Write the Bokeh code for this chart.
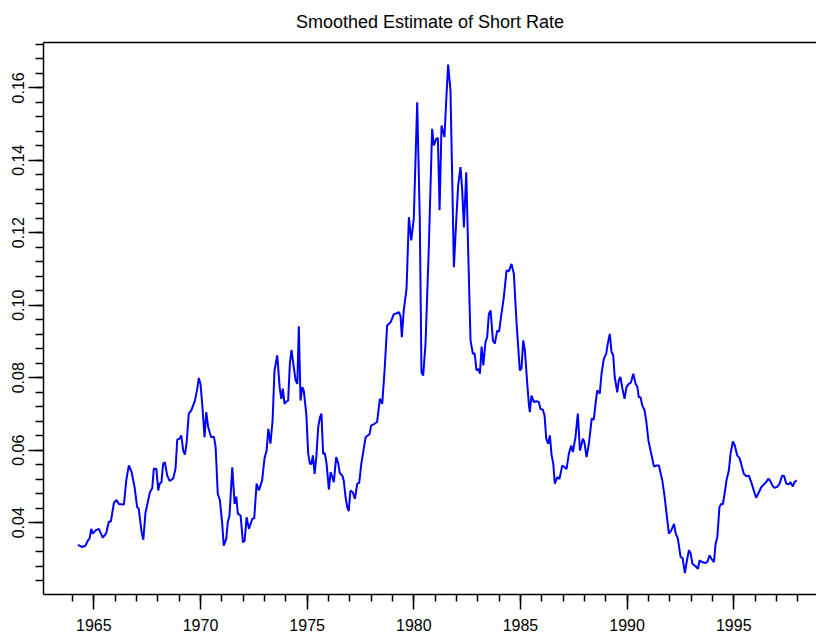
from bokeh.plotting import figure
from bokeh.models import FixedTicker, LinearAxis, PrintfTickFormatter, Range1d
from bokeh.embed import file_html
from bokeh.resources import INLINE

years = [
    1964.25, 1964.46, 1964.61, 1964.72, 1964.80, 1964.88, 1964.95, 1965.08, 1965.23, 1965.42,
    1965.58, 1965.70, 1965.80, 1965.94, 1966.06, 1966.17, 1966.41, 1966.52, 1966.64, 1966.77,
    1966.91, 1967.03, 1967.10, 1967.24, 1967.32, 1967.42, 1967.63, 1967.74, 1967.81, 1967.93,
    1968.02, 1968.09, 1968.17, 1968.25, 1968.33, 1968.44, 1968.56, 1968.72, 1968.83, 1968.91,
    1969.02, 1969.10, 1969.19, 1969.27, 1969.35, 1969.45, 1969.57, 1969.74, 1969.85, 1969.92,
    1970.00, 1970.08, 1970.19, 1970.27, 1970.36, 1970.50, 1970.63, 1970.71, 1970.81, 1970.91,
    1971.02, 1971.09, 1971.21, 1971.28, 1971.36, 1971.49, 1971.60, 1971.68, 1971.75, 1971.88,
    1971.99, 1972.07, 1972.16, 1972.27, 1972.43, 1972.52, 1972.63, 1972.74, 1972.89, 1973.00,
    1973.10, 1973.18, 1973.28, 1973.38, 1973.47, 1973.60, 1973.71, 1973.79, 1973.86, 1973.94,
    1974.03, 1974.11, 1974.19, 1974.27, 1974.35, 1974.46, 1974.54, 1974.61, 1974.69, 1974.77,
    1974.84, 1974.96, 1975.05, 1975.13, 1975.20, 1975.27, 1975.35, 1975.43, 1975.52, 1975.60,
    1975.67, 1975.75, 1975.83, 1975.91, 1976.02, 1976.10, 1976.18, 1976.25, 1976.36, 1976.46,
    1976.53, 1976.65, 1976.72, 1976.80, 1976.88, 1976.95, 1977.03, 1977.14, 1977.24, 1977.35,
    1977.44, 1977.54, 1977.63, 1977.74, 1977.85, 1977.93, 1978.00, 1978.16, 1978.28, 1978.41,
    1978.52, 1978.63, 1978.75, 1978.91, 1979.06, 1979.20, 1979.30, 1979.38, 1979.44, 1979.53,
    1979.66, 1979.77, 1979.88, 1980.00, 1980.16, 1980.28, 1980.36, 1980.44, 1980.55, 1980.70,
    1980.86, 1980.94, 1981.05, 1981.13, 1981.21, 1981.30, 1981.44, 1981.52, 1981.61, 1981.72,
    1981.80, 1981.88, 1981.99, 1982.08, 1982.19, 1982.27, 1982.35, 1982.46, 1982.55, 1982.66,
    1982.77, 1982.85, 1982.94, 1983.02, 1983.10, 1983.18, 1983.26, 1983.36, 1983.44, 1983.52,
    1983.60, 1983.71, 1983.80, 1983.91, 1984.00, 1984.11, 1984.22, 1984.35, 1984.46, 1984.58,
    1984.69, 1984.82, 1984.97, 1985.05, 1985.13, 1985.21, 1985.32, 1985.40, 1985.44, 1985.52,
    1985.63, 1985.75, 1985.86, 1985.94, 1986.05, 1986.13, 1986.21, 1986.30, 1986.38, 1986.46,
    1986.54, 1986.61, 1986.73, 1986.83, 1986.96, 1987.07, 1987.16, 1987.27, 1987.38, 1987.46,
    1987.58, 1987.69, 1987.79, 1987.93, 1988.00, 1988.10, 1988.21, 1988.34, 1988.44, 1988.52,
    1988.60, 1988.72, 1988.80, 1988.91, 1989.02, 1989.10, 1989.19, 1989.27, 1989.35, 1989.42,
    1989.54, 1989.61, 1989.69, 1989.78, 1989.88, 1989.97, 1990.08, 1990.18, 1990.29, 1990.40,
    1990.48, 1990.55, 1990.63, 1990.71, 1990.82, 1990.90, 1991.00, 1991.10, 1991.26, 1991.38,
    1991.49, 1991.65, 1991.76, 1991.85, 1991.96, 1992.07, 1992.20, 1992.28, 1992.38, 1992.51,
    1992.60, 1992.71, 1992.79, 1992.90, 1992.98, 1993.06, 1993.21, 1993.32, 1993.40, 1993.53,
    1993.68, 1993.76, 1993.87, 1993.96, 1994.07, 1994.15, 1994.23, 1994.33, 1994.41, 1994.49,
    1994.57, 1994.66, 1994.77, 1994.85, 1994.96, 1995.05, 1995.16, 1995.27, 1995.37, 1995.47,
    1995.60, 1995.71, 1995.82, 1995.94, 1996.05, 1996.18, 1996.29, 1996.41, 1996.52, 1996.62,
    1996.70, 1996.81, 1996.91, 1997.04, 1997.15, 1997.27, 1997.36, 1997.46, 1997.58, 1997.66,
    1997.77, 1997.85, 1997.95,
]

rates = [
    0.0339, 0.0333, 0.0337, 0.0351, 0.0356, 0.0383, 0.0370, 0.0379, 0.0383, 0.0359,
    0.0371, 0.0402, 0.0404, 0.0454, 0.0463, 0.0452, 0.0450, 0.0517, 0.0558, 0.0540,
    0.0498, 0.0443, 0.0440, 0.0374, 0.0353, 0.0427, 0.0484, 0.0496, 0.0549, 0.0549,
    0.0489, 0.0508, 0.0512, 0.0563, 0.0567, 0.0530, 0.0515, 0.0522, 0.0549, 0.0629,
    0.0632, 0.0641, 0.0599, 0.0588, 0.0620, 0.0701, 0.0710, 0.0737, 0.0770, 0.0799,
    0.0783, 0.0728, 0.0636, 0.0705, 0.0664, 0.0636, 0.0637, 0.0609, 0.0480, 0.0462,
    0.0397, 0.0337, 0.0356, 0.0402, 0.0420, 0.0553, 0.0452, 0.0472, 0.0425, 0.0420,
    0.0346, 0.0350, 0.0415, 0.0383, 0.0411, 0.0412, 0.0508, 0.0489, 0.0517, 0.0577,
    0.0599, 0.0659, 0.0618, 0.0682, 0.0820, 0.0862, 0.0774, 0.0742, 0.0770, 0.0728,
    0.0735, 0.0737, 0.0839, 0.0877, 0.0839, 0.0793, 0.0783, 0.0942, 0.0737, 0.0774,
    0.0765, 0.0701, 0.0590, 0.0563, 0.0562, 0.0586, 0.0535, 0.0581, 0.0664, 0.0691,
    0.0701, 0.0590, 0.0592, 0.0563, 0.0491, 0.0540, 0.0526, 0.0512, 0.0581, 0.0563,
    0.0537, 0.0530, 0.0515, 0.0471, 0.0443, 0.0432, 0.0489, 0.0484, 0.0466, 0.0508,
    0.0510, 0.0563, 0.0595, 0.0636, 0.0641, 0.0645, 0.0668, 0.0673, 0.0678, 0.0742,
    0.0728, 0.0820, 0.0944, 0.0953, 0.0975, 0.0978, 0.0981, 0.0970, 0.0912, 0.0986,
    0.1045, 0.1243, 0.1179, 0.1239, 0.1560, 0.1243, 0.0815, 0.0806, 0.0894, 0.1151,
    0.1487, 0.1441, 0.1459, 0.1462, 0.1262, 0.1496, 0.1464, 0.1565, 0.1664, 0.1593,
    0.1353, 0.1105, 0.1234, 0.1330, 0.1381, 0.1317, 0.1215, 0.1367, 0.1151, 0.0903,
    0.0866, 0.0868, 0.0820, 0.0825, 0.0811, 0.0886, 0.0834, 0.0898, 0.0912, 0.0976,
    0.0986, 0.0903, 0.0894, 0.0930, 0.0927, 0.0976, 0.1022, 0.1096, 0.1094, 0.1114,
    0.1087, 0.0949, 0.0820, 0.0826, 0.0903, 0.0875, 0.0783, 0.0724, 0.0705, 0.0751,
    0.0733, 0.0735, 0.0733, 0.0714, 0.0712, 0.0696, 0.0632, 0.0618, 0.0641, 0.0586,
    0.0563, 0.0508, 0.0526, 0.0521, 0.0558, 0.0553, 0.0548, 0.0590, 0.0613, 0.0595,
    0.0636, 0.0701, 0.0599, 0.0632, 0.0622, 0.0581, 0.0618, 0.0687, 0.0685, 0.0728,
    0.0765, 0.0756, 0.0811, 0.0852, 0.0866, 0.0896, 0.0921, 0.0871, 0.0862, 0.0802,
    0.0760, 0.0793, 0.0802, 0.0770, 0.0742, 0.0774, 0.0783, 0.0787, 0.0811, 0.0783,
    0.0775, 0.0746, 0.0746, 0.0724, 0.0710, 0.0680, 0.0627, 0.0599, 0.0555, 0.0558,
    0.0558, 0.0517, 0.0471, 0.0425, 0.0370, 0.0379, 0.0397, 0.0370, 0.0356, 0.0305,
    0.0303, 0.0261, 0.0291, 0.0324, 0.0315, 0.0287, 0.0280, 0.0273, 0.0296, 0.0291,
    0.0289, 0.0292, 0.0310, 0.0300, 0.0291, 0.0342, 0.0360, 0.0443, 0.0452, 0.0451,
    0.0480, 0.0517, 0.0544, 0.0590, 0.0624, 0.0613, 0.0586, 0.0579, 0.0558, 0.0535,
    0.0528, 0.0530, 0.0512, 0.0489, 0.0469, 0.0484, 0.0498, 0.0506, 0.0512, 0.0521,
    0.0517, 0.0503, 0.0496, 0.0499, 0.0508, 0.0530, 0.0529, 0.0508, 0.0506, 0.0512,
    0.0500, 0.0512, 0.0517,
]

x_major_ticks = [1965, 1970, 1975, 1980, 1985, 1990, 1995]
x_minor_ticks = list(range(1964, 1999))
y_major_ticks = [0.04, 0.06, 0.08, 0.10, 0.12, 0.14, 0.16]
y_minor_ticks = [round(0.024 + 0.004 * i, 3) for i in range(38)]

FONT = "Liberation Sans"

p = figure(
    width=816, height=637,
    x_range=Range1d(1962.64, 1998.88),
    y_range=Range1d(0.0202, 0.1725),
    title="Smoothed Estimate of Short Rate",
    output_backend="svg", toolbar_location=None,
    min_border_left=43, min_border_right=0,
    min_border_top=42, min_border_bottom=43,
)
p.outline_line_color = None
p.xgrid.visible = False
p.ygrid.visible = False
p.background_fill_color = "white"
p.border_fill_color = "white"

p.title.align = "center"
p.title.vertical_align = "top"
p.title.text_font = FONT
p.title.text_font_size = "18px"
p.title.text_font_style = "normal"
p.title.text_color = "black"
p.title.standoff = 18

p.line(years, rates, line_color="#0000ff", line_width=2)

for ax in (p.xaxis[0], p.yaxis[0]):
    ax.axis_line_color = "black"
    ax.axis_line_width = 1.5
    ax.major_tick_line_color = "black"
    ax.major_tick_line_width = 1.5
    ax.minor_tick_line_color = "black"
    ax.minor_tick_line_width = 1.5
    ax.major_tick_in = 0
    ax.minor_tick_in = 0
    ax.major_tick_out = 15
    ax.major_label_text_font = FONT
    ax.major_label_text_font_size = "16px"
    ax.major_label_text_color = "black"

p.xaxis[0].ticker = FixedTicker(ticks=x_major_ticks, minor_ticks=x_minor_ticks)
p.xaxis[0].minor_tick_out = 7
p.xaxis[0].major_label_standoff = 9
p.yaxis[0].ticker = FixedTicker(ticks=y_major_ticks, minor_ticks=y_minor_ticks)
p.yaxis[0].minor_tick_out = 8
p.yaxis[0].major_label_standoff = 4
p.yaxis[0].formatter = PrintfTickFormatter(format="%.2f")
p.yaxis[0].major_label_orientation = "vertical"

top = LinearAxis(ticker=FixedTicker(ticks=[], minor_ticks=[]),
                 axis_line_color="black", axis_line_width=1.5,
                 major_tick_in=0, major_tick_out=0, minor_tick_in=0, minor_tick_out=0,
                 major_label_standoff=0)
p.add_layout(top, "above")

open("out.html", "w").write(file_html(p, INLINE))
